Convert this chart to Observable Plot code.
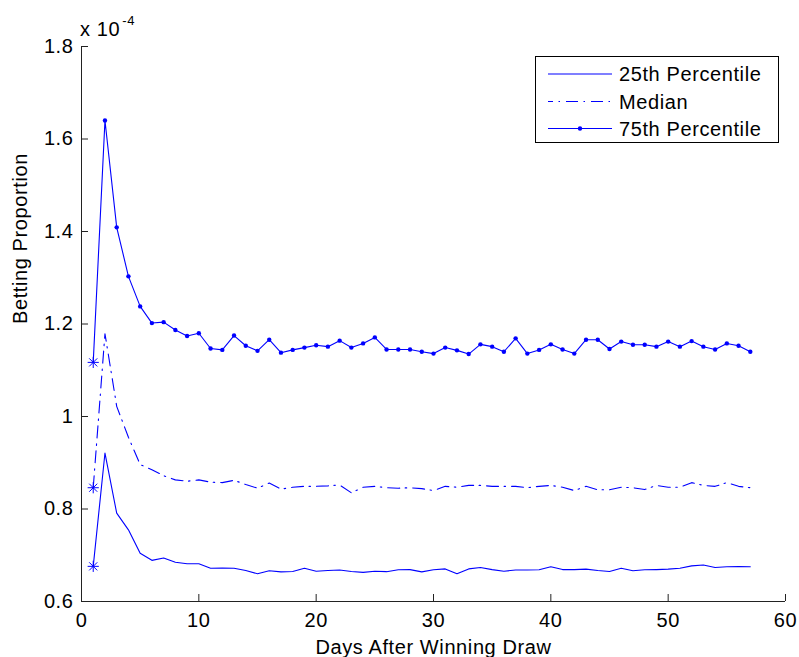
<!DOCTYPE html>
<html><head><meta charset="utf-8">
<script src="https://cdn.jsdelivr.net/npm/d3@7"></script>
<script src="https://cdn.jsdelivr.net/npm/@observablehq/plot@0.6"></script>
<style>body{margin:0;background:#fff} #chart svg{overflow:visible}</style>
</head><body><div id="chart"></div>
<script>
const days = [1,2,3,4,5,6,7,8,9,10,11,12,13,14,15,16,17,18,19,20,21,22,23,24,25,26,27,28,29,30,31,32,33,34,35,36,37,38,39,40,41,42,43,44,45,46,47,48,49,50,51,52,53,54,55,56,57];
const p25 = [0.676,0.921,0.791,0.755,0.7045,0.689,0.694,0.685,0.6815,0.6815,0.672,0.6725,0.672,0.667,0.660,0.6665,0.664,0.665,0.672,0.6655,0.667,0.668,0.665,0.663,0.6655,0.6645,0.6685,0.669,0.664,0.6685,0.6705,0.660,0.6705,0.6735,0.669,0.6655,0.668,0.668,0.6685,0.675,0.669,0.669,0.670,0.667,0.665,0.672,0.6665,0.6685,0.669,0.670,0.672,0.677,0.679,0.6735,0.675,0.6755,0.675];
const median = [0.846,1.179,1.022,0.955,0.896,0.885,0.872,0.863,0.860,0.863,0.858,0.857,0.862,0.853,0.845,0.856,0.843,0.847,0.849,0.849,0.850,0.852,0.835,0.847,0.849,0.846,0.845,0.846,0.844,0.840,0.849,0.847,0.851,0.851,0.849,0.849,0.849,0.846,0.849,0.851,0.847,0.840,0.849,0.8415,0.8415,0.847,0.846,0.842,0.851,0.847,0.847,0.857,0.851,0.849,0.857,0.849,0.846];
const p75 = [1.117,1.640,1.409,1.303,1.238,1.202,1.204,1.187,1.174,1.180,1.147,1.144,1.175,1.153,1.142,1.166,1.138,1.144,1.149,1.154,1.151,1.164,1.149,1.158,1.171,1.145,1.145,1.145,1.140,1.136,1.149,1.143,1.135,1.156,1.151,1.140,1.169,1.136,1.144,1.156,1.145,1.136,1.166,1.166,1.146,1.162,1.155,1.155,1.151,1.162,1.151,1.163,1.151,1.145,1.158,1.153,1.140];
const seriesNames = ["25th Percentile","Median","75th Percentile"];
const xTicks = [0,10,20,30,40,50,60];
const yTicks = [0.6,0.8,1.0,1.2,1.4,1.6,1.8];
const xLabel = "Days After Winning Draw";
const yLabel = "Betting Proportion";
const expBase = "x 10", expPow = "-4";

const W = 799, H = 657, mT = 46, mR = 14, mB = 56, mL = 81;
const plotW = W - mL - mR, plotH = H - mT - mB, tickLen = 7;
const blue = "#0000ff", axisColor = "#222";
const dashDot = "12,5.5,1.5,6";
const font = "Liberation Sans, Arial, sans-serif";
const fs = 20, ls = "0.6px";

const rows = days.map((d, i) => ({d, p25: p25[i], med: median[i], p75: p75[i]}));
const first = rows.slice(0, 1);
const rest = rows.slice(1);

// Matlab-like 8-arm star
const star = {draw(ctx, size) {
  const a = Math.sqrt(size / Math.PI);
  const b = a * 0.72;
  ctx.moveTo(-a, 0); ctx.lineTo(a, 0);
  ctx.moveTo(0, -a); ctx.lineTo(0, a);
  ctx.moveTo(-b, -b); ctx.lineTo(b, b);
  ctx.moveTo(-b, b); ctx.lineTo(b, -b);
}};

const chart = Plot.plot({
  width: W, height: H,
  marginTop: mT, marginRight: mR, marginBottom: mB, marginLeft: mL,
  style: {fontFamily: font, fontSize: fs + "px", letterSpacing: ls, background: "white", color: "black"},
  x: {domain: [0, 60]},
  y: {domain: [0.6, 1.8]},
  marks: [
    Plot.ruleY([0.6], {stroke: axisColor, strokeWidth: 1}),
    Plot.ruleX([0], {stroke: axisColor, strokeWidth: 1}),
    Plot.ruleX(xTicks, {x: d => d, stroke: axisColor, insetTop: plotH - tickLen}),
    Plot.ruleY(yTicks, {y: d => d, stroke: axisColor, insetRight: plotW - tickLen}),
    Plot.axisX({ticks: xTicks, tickSize: 0, tickPadding: 11, fontSize: fs, label: null, tickFormat: d => String(d)}),
    Plot.axisY({ticks: yTicks, tickSize: 0, tickPadding: 8, fontSize: fs, label: null, tickFormat: d => String(+d.toFixed(1))}),
    Plot.line(rows, {x: "d", y: "p25", stroke: blue, strokeWidth: 1.1}),
    Plot.line(rows, {x: "d", y: "med", stroke: blue, strokeWidth: 1.1, strokeDasharray: dashDot}),
    Plot.line(rows, {x: "d", y: "p75", stroke: blue, strokeWidth: 1.1}),
    Plot.dot(rest, {x: "d", y: "p75", r: 2.2, fill: blue, stroke: "none"}),
    Plot.dot(first, {x: "d", y: "p25", symbol: star, r: 5.6, fill: "none", stroke: blue, strokeWidth: 1}),
    Plot.dot(first, {x: "d", y: "med", symbol: star, r: 5.6, fill: "none", stroke: blue, strokeWidth: 1}),
    Plot.dot(first, {x: "d", y: "p75", symbol: star, r: 5.6, fill: "none", stroke: blue, strokeWidth: 1}),
    Plot.text([xLabel], {frameAnchor: "bottom", dy: 52, fontSize: fs, fill: "black"}),
    Plot.text([yLabel], {frameAnchor: "left", dx: -61, rotate: -90, fontSize: fs, fill: "black"})
  ]
});
document.getElementById("chart").appendChild(chart);

const svg = d3.select(chart);
// exponent label
const ex = svg.append("text").attr("x", 80).attr("y", 36).attr("text-anchor", "start")
  .attr("font-family", font).attr("font-size", fs).attr("letter-spacing", ls).attr("fill", "black");
ex.append("tspan").text(expBase);
ex.append("tspan").attr("dx", 2).attr("dy", -11).attr("font-size", 13).text(expPow);

// legend
const lg = svg.append("g").attr("font-family", font).attr("font-size", fs).attr("letter-spacing", ls).attr("text-anchor", "start");
lg.append("rect").attr("x", 535.5).attr("y", 56.5).attr("width", 243).attr("height", 86)
  .attr("fill", "white").attr("stroke", "black").attr("stroke-width", 1);
const rowY = [74, 101.5, 128.5];
seriesNames.forEach((name, i) => {
  const y = rowY[i];
  const ln = lg.append("line").attr("x1", 548).attr("x2", 612).attr("y1", y).attr("y2", y)
    .attr("stroke", blue).attr("stroke-width", 1.1);
  if (i === 1) ln.attr("stroke-dasharray", dashDot).attr("stroke-dashoffset", -18);
  if (i === 2) lg.append("circle").attr("cx", 580).attr("cy", y).attr("r", 2.2).attr("fill", blue);
  lg.append("text").attr("x", 619).attr("y", y).attr("dy", "0.35em").attr("fill", "black").text(name);
});
</script></body></html>
